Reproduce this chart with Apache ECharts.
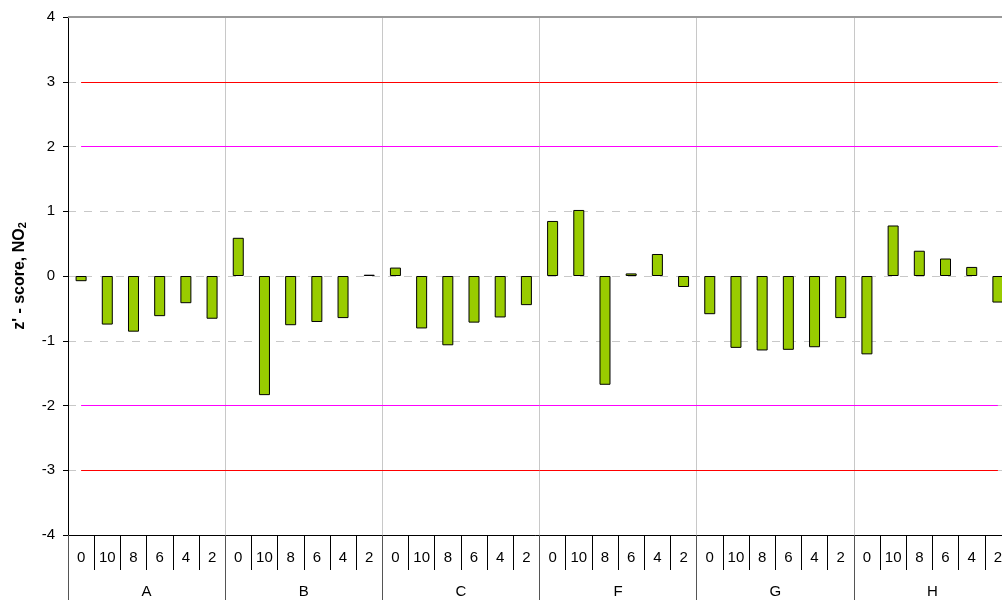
<!DOCTYPE html>
<html>
<head>
<meta charset="utf-8">
<script src="https://cdn.jsdelivr.net/npm/echarts@6/dist/echarts.min.js"></script>
<style>
  html, body { margin: 0; padding: 0; background: #fff; }
  #main { width: 1002px; height: 600px; }
</style>
</head>
<body>
<div id="main"></div>
<script>
// groups and sub-categories along the x axis
const groups = ["A", "B", "C", "F", "G", "H"];
const subLabels = ["0", "10", "8", "6", "4", "2"];
// z'-score per group, in the order of subLabels
const scoreA = [-0.08, -0.75, -0.86, -0.62, -0.42, -0.66];
const scoreB = [0.59, -1.84, -0.76, -0.71, -0.65, 0.02];
const scoreC = [0.13, -0.81, -1.07, -0.72, -0.64, -0.45];
const scoreF = [0.85, 1.02, -1.68, 0.04, 0.34, -0.17];
const scoreG = [-0.59, -1.11, -1.15, -1.14, -1.1, -0.65];
const scoreH = [-1.21, 0.78, 0.39, 0.27, 0.14, -0.41];
const yTicks = [-4, -3, -2, -1, 0, 1, 2, 3, 4];
// limit lines
const warnLimits = [2, -2];
const actionLimits = [3, -3];

const categories = [];
groups.forEach(g => subLabels.forEach(s => categories.push(g + "-" + s)));
const values = [].concat(scoreA, scoreB, scoreC, scoreF, scoreG, scoreH);
const last = categories.length - 1;

function limitLine(v, color) {
  return [
    { xAxis: 0, yAxis: v, lineStyle: { color: color, width: 1, type: "solid" } },
    { xAxis: last, yAxis: v }
  ];
}

const myChart = echarts.init(document.getElementById("main"));
const option = {
  backgroundColor: "#fff",
  animation: false,
  textStyle: { fontFamily: "Liberation Sans, Arial, sans-serif" },
  grid: {
    left: 68,
    top: 17,
    width: 943,
    height: 518,
    outerBoundsMode: "none"
  },
  xAxis: [
    {
      type: "category",
      data: categories,
      position: "bottom",
      axisLine: { show: true, onZero: false, lineStyle: { color: "#000", width: 1 } },
      axisTick: { show: true, interval: 0, length: 35, lineStyle: { color: "#000" } },
      axisLabel: {
        interval: 0,
        margin: 15,
        fontSize: 15,
        color: "#000",
        formatter: v => v.split("-")[1]
      },
      splitLine: { show: false }
    },
    {
      type: "category",
      data: groups,
      position: "bottom",
      axisLine: { show: false, onZero: false },
      axisTick: { show: true, interval: 0, length: 65, lineStyle: { color: "#555" } },
      axisLabel: { interval: 0, margin: 49, fontSize: 15, color: "#000" },
      splitLine: { show: true, interval: 0, lineStyle: { color: "#c8c8c8", width: 1 } }
    }
  ],
  yAxis: {
    type: "value",
    min: yTicks[0],
    max: yTicks[yTicks.length - 1],
    interval: 1,
    name: "{a|z' - score, NO}{s|2}",
    nameLocation: "middle",
    nameGap: 40,
    nameRotate: 90,
    nameTextStyle: {
      rich: {
        a: { fontSize: 16, fontWeight: "bold", color: "#000", fontFamily: "Liberation Sans" },
        s: { fontSize: 11, fontWeight: "bold", color: "#000", fontFamily: "Liberation Sans", verticalAlign: "bottom", padding: [6, 0, 0, 0] }
      }
    },
    axisLine: { show: true, lineStyle: { color: "#000", width: 1 } },
    axisTick: { show: true, length: 5, lineStyle: { color: "#000" } },
    axisLabel: { fontSize: 15, color: "#000", margin: 13 },
    splitLine: { show: true, lineStyle: { color: "#c8c8c8", type: [8, 8], width: 1 } }
  },
  series: [
    {
      name: "z-score",
      type: "bar",
      data: values,
      barWidth: 11,
      itemStyle: { color: "#99cc00", borderColor: "#000", borderWidth: 1 },
      markLine: {
        silent: true,
        symbol: "none",
        label: { show: false },
        data: [
          { yAxis: yTicks[yTicks.length - 1], lineStyle: { color: "#999", width: 2, type: "solid" } },
          limitLine(actionLimits[0], "#ff0000"),
          limitLine(actionLimits[1], "#ff0000"),
          limitLine(warnLimits[0], "#ff00ff"),
          limitLine(warnLimits[1], "#ff00ff")
        ]
      }
    }
  ]
};
option && myChart.setOption(option);
</script>
</body>
</html>
